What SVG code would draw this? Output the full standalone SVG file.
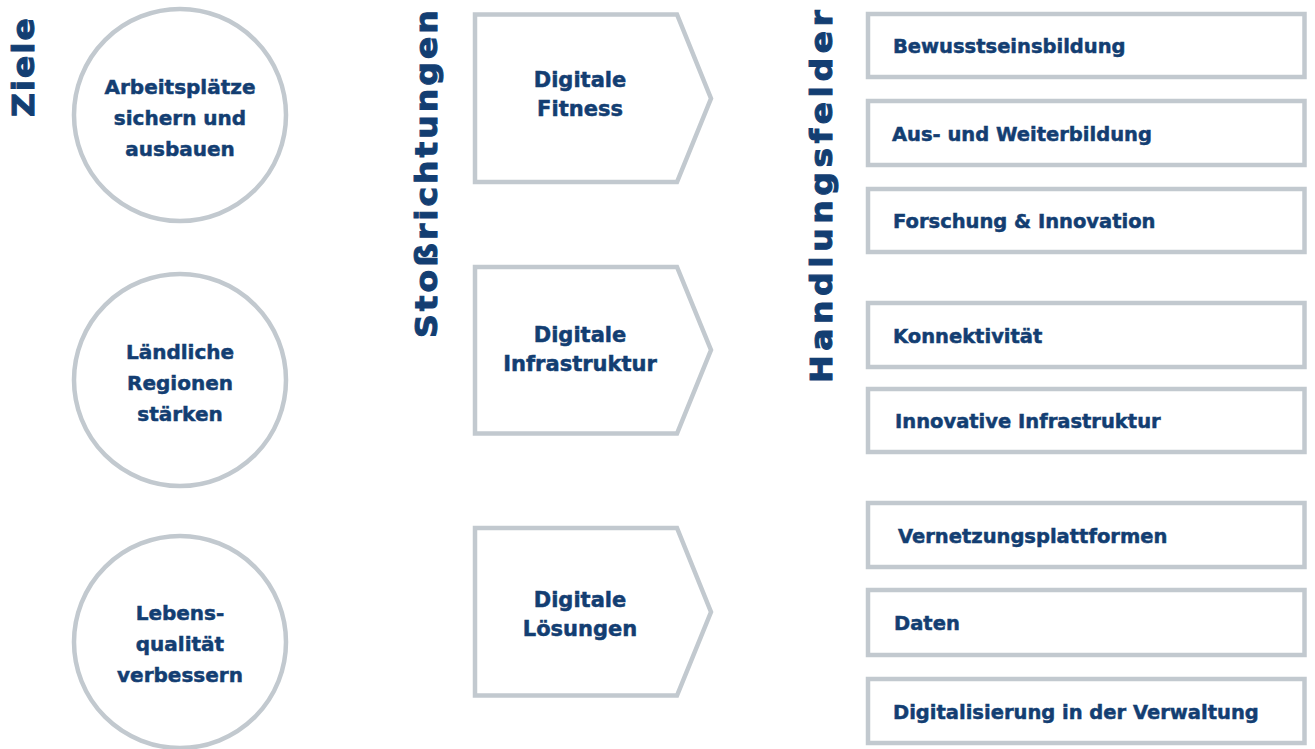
<svg xmlns="http://www.w3.org/2000/svg" width="1315" height="749" viewBox="0 0 1315 749">
  <style>
    .t { font-family: "DejaVu Sans", Verdana, sans-serif; font-weight: bold; fill: #133e72; stroke: #133e72; stroke-width: 0.5; }
    .title { font-size: 30px; stroke-width: 1; }
    .ct { font-size: 20px; text-anchor: middle; }
    .vt { font-size: 21px; text-anchor: middle; }
    .bt { font-size: 19.5px; }
    .shape { fill: #ffffff; stroke: #c2c9cf; stroke-width: 4.5; }
  </style>
  <rect width="1315" height="749" fill="#ffffff"/>

  <g id="titles">
    <text class="t title" transform="translate(34,117) rotate(-90) scale(1.1,1)" textLength="90" lengthAdjust="spacing">Ziele</text>
    <text class="t title" transform="translate(437,338) rotate(-90) scale(1.1,1)" textLength="298" lengthAdjust="spacing">Stoßrichtungen</text>
    <text class="t title" transform="translate(832,383) rotate(-90) scale(1.1,1)" textLength="339" lengthAdjust="spacing">Handlungsfelder</text>
  </g>

  <g id="ziel1">
    <circle class="shape" cx="180" cy="115" r="106"/>
    <text class="t ct" x="180" y="94">Arbeitsplätze</text>
    <text class="t ct" x="180" y="125">sichern und</text>
    <text class="t ct" x="180" y="156">ausbauen</text>
  </g>
  <g id="ziel2">
    <circle class="shape" cx="180" cy="380" r="106"/>
    <text class="t ct" x="180" y="359">Ländliche</text>
    <text class="t ct" x="180" y="390">Regionen</text>
    <text class="t ct" x="180" y="421">stärken</text>
  </g>
  <g id="ziel3">
    <circle class="shape" cx="180" cy="642" r="106"/>
    <text class="t ct" x="180" y="620">Lebens-</text>
    <text class="t ct" x="180" y="651">qualität</text>
    <text class="t ct" x="180" y="682">verbessern</text>
  </g>

  <g id="stoss1">
    <polygon class="shape" points="475,14.5 677,14.5 711,98.5 677,182 475,182"/>
    <text class="t vt" x="580" y="87">Digitale</text>
    <text class="t vt" x="580" y="116">Fitness</text>
  </g>
  <g id="stoss2">
    <polygon class="shape" points="475,267 677,267 711,350 677,433.5 475,433.5"/>
    <text class="t vt" x="580" y="342">Digitale</text>
    <text class="t vt" x="580" y="371">Infrastruktur</text>
  </g>
  <g id="stoss3">
    <polygon class="shape" points="475,528 677,528 711,612 677,695.5 475,695.5"/>
    <text class="t vt" x="580" y="607">Digitale</text>
    <text class="t vt" x="580" y="636">Lösungen</text>
  </g>

  <g id="feld1">
    <rect class="shape" x="868" y="14" width="436.5" height="63"/>
    <text class="t bt" x="893" y="53">Bewusstseinsbildung</text>
  </g>
  <g id="feld2">
    <rect class="shape" x="868" y="101" width="436.5" height="64"/>
    <text class="t bt" x="892" y="140.5">Aus- und Weiterbildung</text>
  </g>
  <g id="feld3">
    <rect class="shape" x="868" y="189" width="436.5" height="63"/>
    <text class="t bt" x="893" y="228">Forschung &amp; Innovation</text>
  </g>
  <g id="feld4">
    <rect class="shape" x="868" y="303" width="436.5" height="64"/>
    <text class="t bt" x="893" y="342.5">Konnektivität</text>
  </g>
  <g id="feld5">
    <rect class="shape" x="868" y="389" width="436.5" height="63"/>
    <text class="t bt" x="895" y="428">Innovative Infrastruktur</text>
  </g>
  <g id="feld6">
    <rect class="shape" x="868" y="503" width="436.5" height="64"/>
    <text class="t bt" x="898" y="542.5">Vernetzungsplattformen</text>
  </g>
  <g id="feld7">
    <rect class="shape" x="868" y="590" width="436.5" height="65"/>
    <text class="t bt" x="894" y="630">Daten</text>
  </g>
  <g id="feld8">
    <rect class="shape" x="868" y="679" width="436.5" height="64"/>
    <text class="t bt" x="893" y="718.5">Digitalisierung in der Verwaltung</text>
  </g>

  <g id="connectors"></g>
</svg>
